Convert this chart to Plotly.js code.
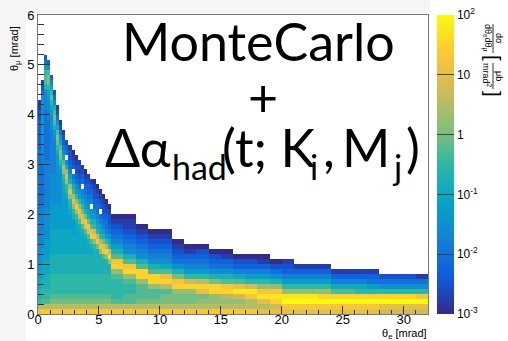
<!DOCTYPE html>
<html><head><meta charset="utf-8">
<script src="https://cdn.plot.ly/plotly-3.0.1.min.js"></script>
<style>html,body{margin:0;padding:0;background:#fff}#chart{width:508px;height:341px}</style>
</head><body><div id="chart"></div>
<script>
// ---- data ----
// theta_e bin edges [mrad]
const xEdges = [0,0.25,0.5,0.75,1,1.25,1.5,1.75,2,2.25,2.5,2.75,3,3.25,3.5,3.75,4,4.25,4.5,4.75,5,5.25,5.5,5.75,6,
                7,8,9,10,11,12,13,14,15,16,17,18,19,20,21,22,23,24,25,26,27,28,29,30,31,32];
// theta_mu binning: 0..6 mrad, 0.1 mrad per row
const yMin = 0, yMax = 6, yBinWidth = 0.1;
// level letters: a = 10^-3 ... u = 10^2 in quarter-decade steps, '.' = empty bin
const levelLetters = 'abcdefghijklmnopqrstu';
const logMin = -3, logStep = 0.25;
// one string per theta_e column, cells from theta_mu = 0 upward (run-length: letter + count)
const columns = [
 "r o k j2 i2 h3 g4 f7 e12 d6 c2 b2",
 "r o l k2 j2 i3 h3 g4 f5 e8 f2 g4 h4 g4 d c b",
 "r o l k2 j3 i3 h4 g6 f10 e10 f4 j l l k h e c",
 "r o l k2 j3 i3 h4 g6 f10 e8 f2 g2 h i k m m l g d",
 "r o m l k4 j4 i5 h5 g6 f9 g3 h i k m k i f d",
 "r o m l k4 j4 i5 h5 g6 f7 g h j l m l j g e c",
 "r o m l k4 j4 i5 h5 g8 h h i k m n l i g e c b",
 "r o m l k4 j4 i5 h5 g6 h i k m n l i g e c b",
 "r o m l k4 j4 i5 h5 h2 i2 j k n o l i g e d c b",
 "r o m l k4 j4 i5 h5 h i j k n p n j g . e d c",
 "r o m l k4 j4 i5 h3 i j k n q n j h f e d c c b",
 "r o m l k4 j4 i4 h3 j k n q o k i g e . d c b a",
 "r o m l k4 j4 i6 j k o r n k h g e d c c b a",
 "r o m l k4 j4 i5 j l p r n k h g e d c b c b",
 "r o m l k4 j4 i4 j l q q m k i g f . e d c b",
 "r o m l k4 j4 i3 j l q r m j h g f e d c b a",
 "r o m l k4 j4 i2 j l q r m j h g f e d d c b",
 "r o m l k4 j4 i j l r q l j h g . f e d c b",
 "r o m l k4 j4 j k n r p k j h g e d c c b a",
 "r o m l k4 j4 j m r p k i h f e e d c b a",
 "r o m l k4 j4 n r o k i h f e . d c b a",
 "r o m l k4 j3 l r q m j h f e d c c b a",
 "r o m l k4 j3 n s o k h f e e d c b a",
 "r o m l k4 j2 n s p k i g e d c c b a",
 "r o l k k k k l n s r l j h f e d c b a",
 "r o l l k k l n s r l j g f e d c b b a",
 "r o m l l l n s s l j g f e d c b a",
 "r o m l l n s s l j g f e d c b a",
 "r o m m l o s q l i g f e d c b a",
 "r o m m n s r m j g e d c b a",
 "r o m m n s p k h f e d b a",
 "r o n m q s o k h f e d c a",
 "r o n n s s m j g e d c a",
 "r o n o s r l j g e d b a",
 "r o n p t q l i f d c a",
 "r o o r t p k h f d c a",
 "q o q t r n k h f d b a",
 "q p s t r n j g e c a",
 "q r u t n k h f d c b",
 "q r u t n k h f d b",
 "q r u t n k h f d b",
 "q r u s n k h f d b",
 "q r u s l i f d b",
 "q r u s l i f d b",
 "q r u s k i f d b",
 "q r u s k h e d b",
 "p q u s k g e c",
 "p q u s k g e c",
 "p q u s k g e c",
 "p q u r k g e b"
];
// colour bar (log10 of d sigma / d theta_e d theta_mu, in microbarn / mrad^2)
const zLogMin = -3, zLogMax = 2;
const cbMajorVals = [-3,-2,-1,0,1,2];
const cbMajorText = ['10<sup>-3</sup>','10<sup>-2</sup>','10<sup>-1</sup>','1','10','10<sup>2</sup>'];
const cbMinorMultipliers = [2,3,4,5,6,7,8,9];
const xRange = [0, 32];
const yRange = [0, 6];

// ---- build heatmap table ----
function decode(s){
  const out = [];
  s.trim().split(/\s+/).forEach(tok => {
    const c = tok[0];
    const n = tok.length > 1 ? parseInt(tok.slice(1), 10) : 1;
    for (let i = 0; i < n; i++) out.push(c === '.' ? null : logMin + levelLetters.indexOf(c) * logStep);
  });
  return out;
}
const nRows = Math.round((yMax - yMin) / yBinWidth);
const yEdges = [];
for (let i = 0; i <= nRows; i++) yEdges.push(+(yMin + i * yBinWidth).toFixed(2));
const cols = columns.map(decode);
const z = [];
for (let r = 0; r < nRows; r++) z.push(cols.map(c => (r < c.length ? c[r] : null)));

const kBird = [[0,'rgb(53,42,135)'],[0.125,'rgb(15,92,221)'],[0.25,'rgb(20,129,214)'],[0.375,'rgb(6,164,202)'],
  [0.5,'rgb(46,183,164)'],[0.625,'rgb(135,191,119)'],[0.75,'rgb(209,187,89)'],[0.875,'rgb(254,200,50)'],[1,'rgb(249,251,14)']];

// ---- layout geometry (pixels) ----
const PL = 38, PR = 428, PT = 15, PB = 314;
const px = x => (x - PL) / (PR - PL);
const py = y => (PB - y) / (PB - PT);
const CB_L = 437, CB_R = 454;

const trace = {
  type: 'heatmap', x: xEdges, y: yEdges, z: z,
  zmin: zLogMin, zmax: zLogMax, zsmooth: false, colorscale: kBird, hoverinfo: 'skip',
  colorbar: {
    x: px(CB_L), xanchor: 'left', xref: 'paper', y: 0.5, yanchor: 'middle', yref: 'paper',
    len: 1, lenmode: 'fraction', thickness: CB_R - CB_L, thicknessmode: 'pixels',
    xpad: 0, ypad: 0, outlinewidth: 0,
    tickmode: 'array', tickvals: cbMajorVals, ticktext: cbMajorText,
    ticks: 'inside', ticklen: CB_R - CB_L, tickcolor: '#444', tickwidth: 1,
    tickfont: {family: 'Liberation Sans, Arial, sans-serif', size: 12, color: '#000'}
  }
};

// minor log ticks on the colour bar (right edge, pointing inward)
const cbMinorShapes = [];
for (let d = zLogMin; d < zLogMax; d++) {
  cbMinorMultipliers.forEach(m => {
    const f = (d + Math.log10(m) - zLogMin) / (zLogMax - zLogMin);
    cbMinorShapes.push({type: 'line', xref: 'paper', yref: 'paper', x0: px(CB_R - 6), x1: px(CB_R), y0: f, y1: f, line: {color: '#444', width: 1}});
  });
}

const BIG = 52, SUB = 34;
const bigFont = {family: 'Lato, sans-serif', size: BIG, color: '#000000'};
const subFont = {family: 'Lato, sans-serif', size: SUB, color: '#000000'};
const smallFont = {family: 'Liberation Sans, Arial, sans-serif', size: 9, color: '#000'};
const ann = (x, y, text, font, extra) => Object.assign({xref: 'paper', yref: 'paper', x: px(x), y: py(y), text, font, showarrow: false, xanchor: 'center', yanchor: 'middle', borderpad: 0}, extra || {});
const L = {xanchor: 'left'};
const mainY = 147, subY = 166;

const layout = {
  width: 508, height: 341,
  margin: {l: PL, r: 508 - PR, t: PT, b: 341 - PB, pad: 0},
  paper_bgcolor: '#ffffff', plot_bgcolor: '#ffffff',
  font: {family: 'Liberation Sans, Arial, sans-serif', size: 13, color: '#000'},
  xaxis: {range: xRange, tickmode: 'linear', tick0: 0, dtick: 5, ticks: 'inside', ticklen: 8, tickwidth: 1, tickcolor: '#333',
    minor: {dtick: 1, ticks: 'inside', ticklen: 4, tickcolor: '#333'},
    showline: true, linecolor: '#777', linewidth: 1, mirror: true, showgrid: false, zeroline: false,
    ticklabelstandoff: -7, tickfont: {size: 13}},
  yaxis: {range: yRange, tickmode: 'linear', tick0: 0, dtick: 1, ticks: 'inside', ticklen: 12, tickwidth: 1, tickcolor: '#333',
    minor: {dtick: 0.2, ticks: 'inside', ticklen: 6, tickcolor: '#333'},
    showline: true, linecolor: '#777', linewidth: 1, mirror: true, showgrid: false, zeroline: false,
    tickfont: {size: 13}},
  shapes: [
    {type: 'rect', xref: 'paper', yref: 'paper', x0: px(0), x1: px(26), y0: py(341), y1: py(0), fillcolor: '#f5f5f5', line: {width: 0}, layer: 'below'},
    {type: 'rect', xref: 'paper', yref: 'paper', x0: px(26), x1: px(430), y0: py(13), y1: py(0), fillcolor: '#f5f5f5', line: {width: 0}, layer: 'below'},
    {type: 'line', xref: 'paper', yref: 'paper', x0: px(493), x1: px(493), y0: py(24), y1: py(53), line: {color: '#000', width: 0.8}},
    {type: 'line', xref: 'paper', yref: 'paper', x0: px(493), x1: px(493), y0: py(63), y1: py(89), line: {color: '#000', width: 0.8}}
  ].concat(cbMinorShapes),
  annotations: [
    ann(258, 41, 'MonteCarlo', bigFont),
    ann(263, 97, '+', bigFont, {height: 36}),
    ann(104, mainY, 'Δα', bigFont, L),
    ann(171, subY, 'had', subFont, L),
    ann(221, mainY, '(t; K', bigFont, L),
    ann(309, subY, 'i', subFont, L),
    ann(322, mainY, ',', bigFont, L),
    ann(341, mainY, 'M', bigFont, L),
    ann(391, subY, 'j', subFont, L),
    ann(405, mainY, ')', bigFont, L),
    ann(15, 49, 'θ<sub>μ</sub> [mrad]', {family: 'Liberation Sans, Arial, sans-serif', size: 11, color: '#000'}, {textangle: -90}),
    ann(428, 333.5, 'θ<sub>e</sub> [mrad]', {family: 'Liberation Sans, Arial, sans-serif', size: 11, color: '#000'}, {xanchor: 'right'}),
    ann(499, 38, 'dσ', smallFont, {textangle: 90}),
    ann(487, 38, 'dθ<sub>e</sub>dθ<sub>μ</sub>', smallFont, {textangle: 90}),
    ann(493, 58, '[', {family: 'Liberation Sans, Arial, sans-serif', size: 20, color: '#000'}, {textangle: 90}),
    ann(499, 76, 'μb', smallFont, {textangle: 90}),
    ann(487, 76, 'mrad<sup>2</sup>', smallFont, {textangle: 90}),
    ann(493, 94, ']', {family: 'Liberation Sans, Arial, sans-serif', size: 20, color: '#000'}, {textangle: 90})
  ]
};

Plotly.newPlot('chart', [trace], layout, {displayModeBar: false, staticPlot: true});
</script>
</body></html>
